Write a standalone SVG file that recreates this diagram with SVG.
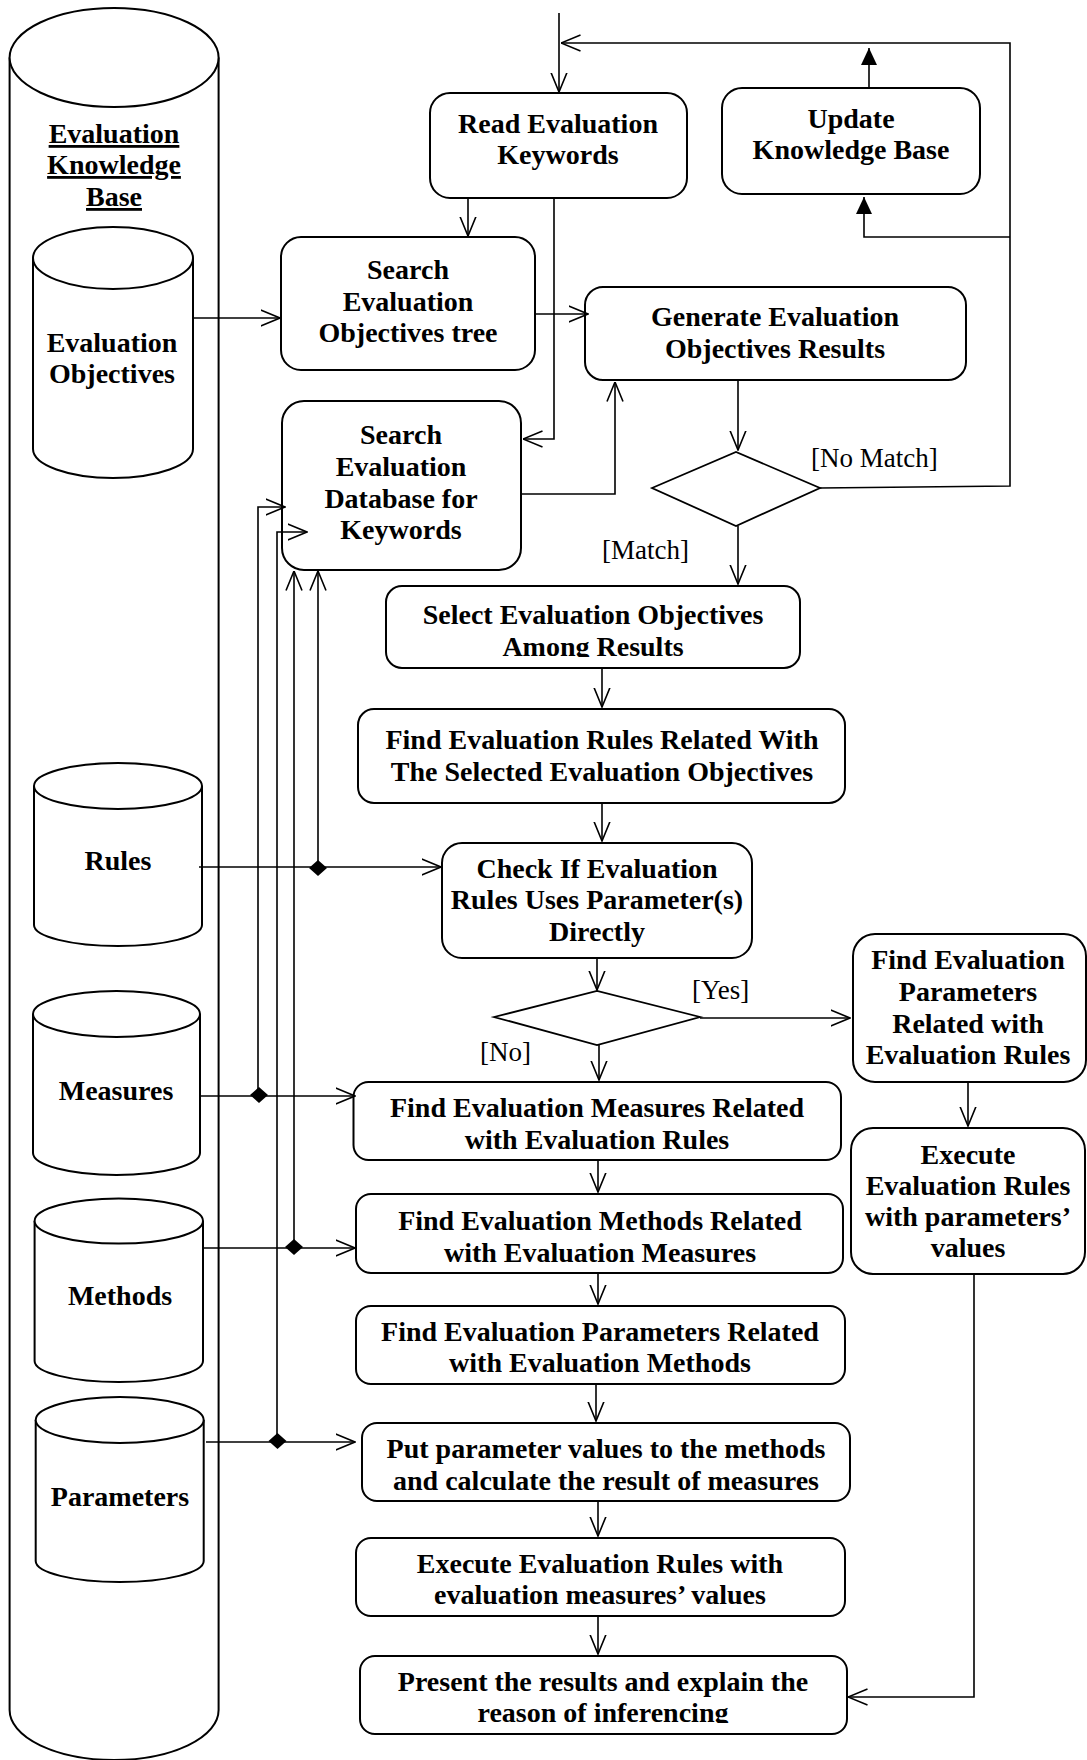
<svg xmlns="http://www.w3.org/2000/svg" width="1087" height="1760" viewBox="0 0 1087 1760">
<style>
.box{fill:#fff;stroke:#000;stroke-width:2}
.cyl{fill:#fff;stroke:#000;stroke-width:2}
.t{font-family:"Liberation Serif","Times New Roman",serif;font-weight:bold;font-size:28px;text-anchor:middle;fill:#000}
.lbl{font-family:"Liberation Serif","Times New Roman",serif;font-size:27px;fill:#000}
.c{fill:none;stroke:#000;stroke-width:1.6}
.oa{marker-end:url(#open)}
.fa{marker-end:url(#filled)}
.dia{fill:#000}
.dec{fill:#fff;stroke:#000;stroke-width:1.8}
</style>
<defs>
<marker id="open" viewBox="0 0 20 18" refX="19.5" refY="9" markerWidth="20" markerHeight="18" markerUnits="userSpaceOnUse" orient="auto">
<path d="M0,1 L19.5,9 L0,17" fill="none" stroke="#000" stroke-width="1.6"/>
</marker>
<marker id="filled" viewBox="0 0 17 16" refX="17" refY="8" markerWidth="17" markerHeight="16" markerUnits="userSpaceOnUse" orient="auto">
<path d="M0,0 L17,8 L0,16 Z" fill="#000"/>
</marker>
<clipPath id="clipSel"><rect x="380" y="580" width="430" height="77"/></clipPath>
<clipPath id="clipPres"><rect x="355" y="1650" width="500" height="73"/></clipPath>
</defs>

<g id="knowledge-base">
<path class="cyl" d="M9.6,57.5 V1710 A104.5,50 0 0 0 218.6,1710 V57.5"/>
<ellipse class="cyl" cx="114.1" cy="57.5" rx="104.5" ry="49.5"/>
<text class="t" x="114" y="143" text-decoration="underline">Evaluation</text>
<text class="t" x="114" y="174" text-decoration="underline">Knowledge</text>
<text class="t" x="114" y="206" text-decoration="underline">Base</text>
</g>

<g id="db-objectives">
<path class="cyl" d="M33,258 V449 A80,29 0 0 0 193,449 V258"/>
<ellipse class="cyl" cx="113" cy="258" rx="80" ry="31"/>
<text class="t" x="112" y="352">Evaluation</text>
<text class="t" x="112" y="383">Objectives</text>
</g>

<g id="db-rules">
<path class="cyl" d="M34,786 V925 A84,21 0 0 0 202,925 V786"/>
<ellipse class="cyl" cx="118" cy="786" rx="84" ry="23"/>
<text class="t" x="118" y="870">Rules</text>
</g>

<g id="db-measures">
<path class="cyl" d="M33,1014 V1153 A83.5,22 0 0 0 200,1153 V1014"/>
<ellipse class="cyl" cx="116.5" cy="1014" rx="83.5" ry="23"/>
<text class="t" x="116" y="1100">Measures</text>
</g>

<g id="db-methods">
<path class="cyl" d="M34.6,1221 V1361 A84.2,21 0 0 0 203,1361 V1221"/>
<ellipse class="cyl" cx="118.8" cy="1221" rx="84.2" ry="22.5"/>
<text class="t" x="120" y="1305">Methods</text>
</g>

<g id="db-parameters">
<path class="cyl" d="M35.7,1420 V1561 A84,21 0 0 0 203.7,1561 V1420"/>
<ellipse class="cyl" cx="119.7" cy="1420" rx="84" ry="23"/>
<text class="t" x="120" y="1506">Parameters</text>
</g>

<g id="read-keywords">
<rect class="box" x="430" y="93" width="257" height="105" rx="20"/>
<text class="t" x="558" y="133">Read Evaluation</text>
<text class="t" x="558" y="164">Keywords</text>
</g>

<g id="update-kb">
<rect class="box" x="722" y="88" width="258" height="106" rx="20"/>
<text class="t" x="851" y="128">Update</text>
<text class="t" x="851" y="159">Knowledge Base</text>
</g>

<g id="search-tree">
<rect class="box" x="281" y="237" width="254" height="133" rx="20"/>
<text class="t" x="408" y="279">Search</text>
<text class="t" x="408" y="311">Evaluation</text>
<text class="t" x="408" y="342">Objectives tree</text>
</g>

<g id="generate-results">
<rect class="box" x="585" y="287" width="381" height="93" rx="18"/>
<text class="t" x="775" y="326">Generate Evaluation</text>
<text class="t" x="775" y="358">Objectives Results</text>
</g>

<g id="search-db">
<rect class="box" x="282" y="401" width="239" height="169" rx="22"/>
<text class="t" x="401" y="444">Search</text>
<text class="t" x="401" y="476">Evaluation</text>
<text class="t" x="401" y="508">Database for</text>
<text class="t" x="401" y="539">Keywords</text>
</g>

<g id="decision-match">
<polygon class="dec" points="652,488 736,452 820,488 736,526"/>
</g>

<g id="select-objectives">
<rect class="box" x="386" y="586" width="414" height="82" rx="16"/>
<g clip-path="url(#clipSel)">
<text class="t" x="593" y="624">Select Evaluation Objectives</text>
<text class="t" x="593" y="656">Among Results</text>
</g>
</g>

<g id="find-rules">
<rect class="box" x="358" y="709" width="487" height="94" rx="16"/>
<text class="t" x="602" y="749">Find Evaluation Rules Related With</text>
<text class="t" x="602" y="781">The Selected Evaluation Objectives</text>
</g>

<g id="check-rules">
<rect class="box" x="442" y="843" width="310" height="115" rx="20"/>
<text class="t" x="597" y="878">Check If Evaluation</text>
<text class="t" x="597" y="909">Rules Uses Parameter(s)</text>
<text class="t" x="597" y="941">Directly</text>
</g>

<g id="decision-param">
<polygon class="dec" points="494,1017 597,991 700,1017 597,1045"/>
</g>

<g id="find-params-rules">
<rect class="box" x="853" y="934" width="233" height="148" rx="22"/>
<text class="t" x="968" y="969">Find Evaluation</text>
<text class="t" x="968" y="1001">Parameters</text>
<text class="t" x="968" y="1033">Related with</text>
<text class="t" x="968" y="1064">Evaluation Rules</text>
</g>

<g id="execute-params">
<rect class="box" x="851" y="1128" width="234" height="146" rx="22"/>
<text class="t" x="968" y="1164">Execute</text>
<text class="t" x="968" y="1195">Evaluation Rules</text>
<text class="t" x="968" y="1226">with parameters’</text>
<text class="t" x="968" y="1257">values</text>
</g>

<g id="find-measures">
<rect class="box" x="353.5" y="1082" width="487.5" height="78" rx="15"/>
<text class="t" x="597" y="1117">Find Evaluation Measures Related</text>
<text class="t" x="597" y="1149">with Evaluation Rules</text>
</g>

<g id="find-methods">
<rect class="box" x="356" y="1194" width="487" height="79" rx="15"/>
<text class="t" x="600" y="1230">Find Evaluation Methods Related</text>
<text class="t" x="600" y="1262">with Evaluation Measures</text>
</g>

<g id="find-parameters">
<rect class="box" x="356" y="1306" width="489" height="78" rx="15"/>
<text class="t" x="600" y="1341">Find Evaluation Parameters Related</text>
<text class="t" x="600" y="1372">with Evaluation Methods</text>
</g>

<g id="put-values">
<rect class="box" x="362" y="1423" width="488" height="78" rx="15"/>
<text class="t" x="606" y="1458">Put parameter values to the methods</text>
<text class="t" x="606" y="1490">and calculate the result of measures</text>
</g>

<g id="execute-measures">
<rect class="box" x="356" y="1538" width="489" height="78" rx="15"/>
<text class="t" x="600" y="1573">Execute Evaluation Rules with</text>
<text class="t" x="600" y="1604">evaluation measures’ values</text>
</g>

<g id="present-results">
<rect class="box" x="360" y="1656" width="487" height="78" rx="15"/>
<g clip-path="url(#clipPres)">
<text class="t" x="603" y="1691">Present the results and explain the</text>
<text class="t" x="603" y="1722">reason of inferencing</text>
</g>
</g>

<g id="connectors">
<path class="c oa" d="M559,13 V92"/>
<path class="c oa" d="M820,488 L1010,486 V43 H561"/>
<path class="c fa" d="M1010,237 H864 V197"/>
<path class="c fa" d="M869,88 V48"/>
<path class="c oa" d="M468,198 V236"/>
<path class="c oa" d="M554,198 V439 H523"/>
<path class="c oa" d="M192,318 H280"/>
<path class="c oa" d="M535,314 H588"/>
<path class="c oa" d="M521,494 H615 V382"/>
<path class="c oa" d="M738,380 V450"/>
<path class="c oa" d="M738,526 V584"/>
<path class="c oa" d="M602,668 V707"/>
<path class="c oa" d="M602,803 V841"/>
<path class="c oa" d="M597,958 V990"/>
<path class="c oa" d="M700,1018 H850"/>
<path class="c oa" d="M599,1045 V1080"/>
<path class="c oa" d="M968,1082 V1126"/>
<path class="c oa" d="M974,1274 V1697 H848"/>
<path class="c oa" d="M598,1160 V1192"/>
<path class="c oa" d="M598,1273 V1304"/>
<path class="c oa" d="M596,1384 V1421"/>
<path class="c oa" d="M598,1501 V1536"/>
<path class="c oa" d="M598,1616 V1654"/>
<path class="c oa" d="M199,867 H441"/>
<path class="c oa" d="M318,868 V571"/>
<path class="c oa" d="M200,1096 H355"/>
<path class="c oa" d="M258,1095 V507 H285"/>
<path class="c oa" d="M203,1248 H355"/>
<path class="c oa" d="M294,1247 V571"/>
<path class="c oa" d="M206,1442 H355"/>
<path class="c oa" d="M277,1441 V532 H307"/>
<polygon class="dia" points="309,868 318,860 327,868 318,876"/>
<polygon class="dia" points="250,1095 259,1087 268,1095 259,1103"/>
<polygon class="dia" points="285,1247 294,1239 303,1247 294,1255"/>
<polygon class="dia" points="268.5,1441 277.5,1433 286.5,1441 277.5,1449"/>
<text class="lbl" x="811" y="467">[No Match]</text>
<text class="lbl" x="602" y="559">[Match]</text>
<text class="lbl" x="692" y="999">[Yes]</text>
<text class="lbl" x="480" y="1061">[No]</text>
</g>
</svg>
